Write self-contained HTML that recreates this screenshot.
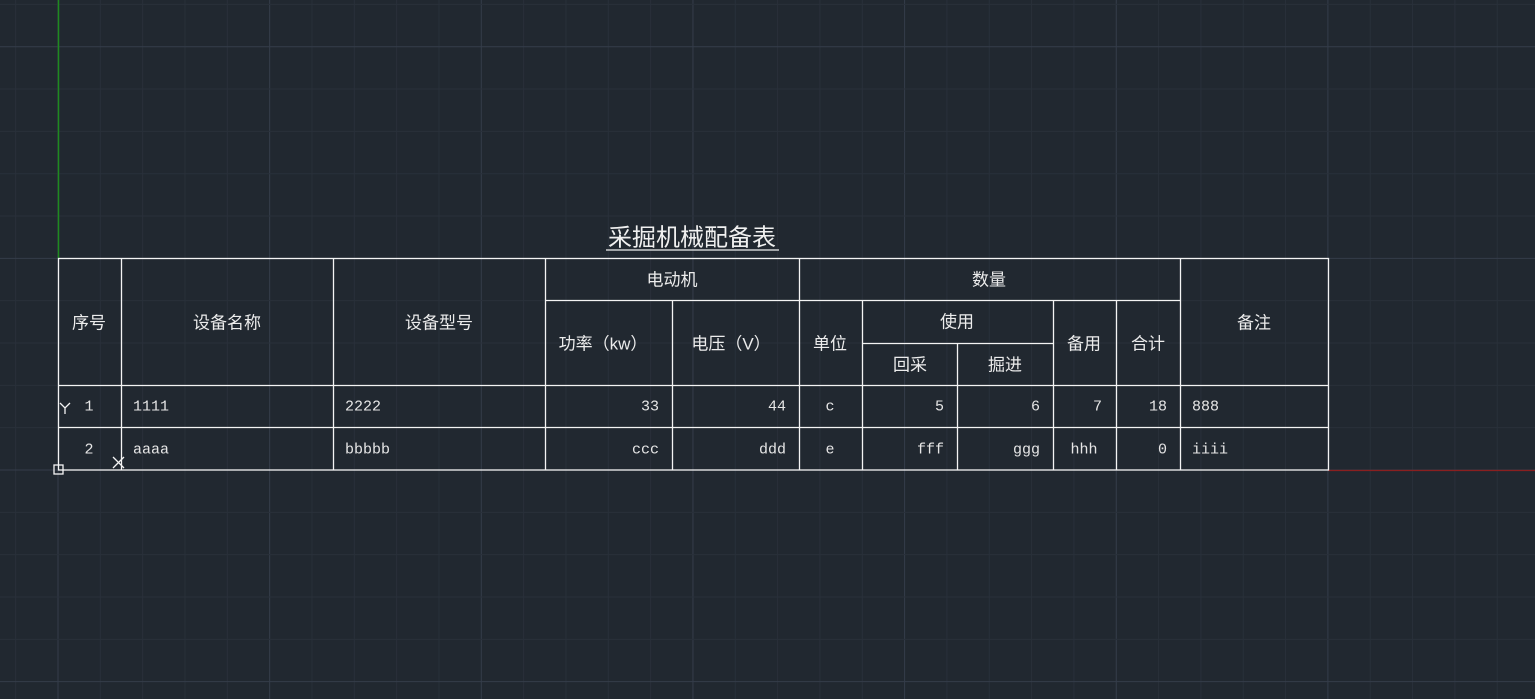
<!DOCTYPE html>
<html><head><meta charset="utf-8"><style>
html,body{margin:0;padding:0;background:#212830;}
svg{display:block}
.h{font-family:"Liberation Sans","Noto Sans CJK SC",sans-serif;font-size:17px;fill:#ececec;text-anchor:middle;dominant-baseline:central}
.d{font-family:"Liberation Mono","Noto Sans CJK SC",monospace;font-size:15px;fill:#e6e6e6;dominant-baseline:central}
.m{text-anchor:middle}.r{text-anchor:end}
</style></head><body>
<svg width="1535" height="699" xmlns="http://www.w3.org/2000/svg">
<rect width="1535" height="699" fill="#212830"/>
<g id="grid"></g>
<line x1="58.5" y1="0" x2="58.5" y2="258" stroke="#1f8a1f" stroke-width="1.5"/>
<line x1="1328" y1="470.5" x2="1535" y2="470.5" stroke="#8a1f1f" stroke-width="1.2"/>
<text x="692" y="238" font-family="'Liberation Sans','Noto Sans CJK SC',sans-serif" font-size="24" fill="#f0f0f0" text-anchor="middle" dominant-baseline="central">采掘机械配备表</text>
<line x1="606" y1="250" x2="779" y2="250" stroke="#f0f0f0" stroke-width="1.3"/>
<g stroke="#f4f4f4" stroke-width="1.3" fill="none">
<rect x="58.5" y="258.5" width="1270" height="211.5"/>
<line x1="58" y1="385.5" x2="1328" y2="385.5"/>
<line x1="58" y1="427.5" x2="1328" y2="427.5"/>
<line x1="545" y1="300.5" x2="1180" y2="300.5"/>
<line x1="862" y1="343.5" x2="1053" y2="343.5"/>
<line x1="121.5" y1="258" x2="121.5" y2="470"/>
<line x1="333.5" y1="258" x2="333.5" y2="470"/>
<line x1="545.5" y1="258" x2="545.5" y2="470"/>
<line x1="672.5" y1="300" x2="672.5" y2="470"/>
<line x1="799.5" y1="258" x2="799.5" y2="470"/>
<line x1="862.5" y1="300" x2="862.5" y2="470"/>
<line x1="957.5" y1="343" x2="957.5" y2="470"/>
<line x1="1053.5" y1="300" x2="1053.5" y2="470"/>
<line x1="1116.5" y1="300" x2="1116.5" y2="470"/>
<line x1="1180.5" y1="258" x2="1180.5" y2="470"/>
<rect x="54" y="465" width="9" height="9"/>
<path d="M60 403 L65 408 L70 403 M65 408 L65 414"/>
<path d="M113 457 L124 468 M124 457 L113 468"/>
</g>
<text class="h" x="89" y="323">序号</text>
<text class="h" x="227" y="323">设备名称</text>
<text class="h" x="439" y="323">设备型号</text>
<text class="h" x="672" y="280">电动机</text>
<text class="h" x="989" y="280">数量</text>
<text class="h" x="603" y="344">功率（kw）</text>
<text class="h" x="731" y="344">电压（V）</text>
<text class="h" x="830" y="344">单位</text>
<text class="h" x="957" y="322">使用</text>
<text class="h" x="910" y="365">回采</text>
<text class="h" x="1005" y="365">掘进</text>
<text class="h" x="1084" y="344">备用</text>
<text class="h" x="1148" y="344">合计</text>
<text class="h" x="1254" y="323">备注</text>
<g class="d">
<text class="d m" x="89" y="407">1</text><text class="d" x="133" y="407">1111</text><text class="d" x="345" y="407">2222</text>
<text class="d r" x="659" y="407">33</text><text class="d r" x="786" y="407">44</text><text class="d m" x="830" y="407">c</text>
<text class="d r" x="944" y="407">5</text><text class="d r" x="1040" y="407">6</text><text class="d r" x="1102" y="407">7</text><text class="d r" x="1167" y="407">18</text><text class="d" x="1192" y="407">888</text>
<text class="d m" x="89" y="450">2</text><text class="d" x="133" y="450">aaaa</text><text class="d" x="345" y="450">bbbbb</text>
<text class="d r" x="659" y="450">ccc</text><text class="d r" x="786" y="450">ddd</text><text class="d m" x="830" y="450">e</text>
<text class="d r" x="944" y="450">fff</text><text class="d r" x="1040" y="450">ggg</text><text class="d m" x="1084" y="450">hhh</text><text class="d r" x="1167" y="450">0</text><text class="d" x="1192" y="450">iiii</text>
</g>
</svg>
<script>
var g=document.getElementById('grid'),ns='http://www.w3.org/2000/svg',s=42.33;
for(var i=-2;i<40;i++){var x=58+i*s;if(x<0||x>1535)continue;var l=document.createElementNS(ns,'line');l.setAttribute('x1',x);l.setAttribute('x2',x);l.setAttribute('y1',0);l.setAttribute('y2',699);l.setAttribute('stroke',(i%5==0)?'#353d4a':'#29303a');l.setAttribute('stroke-width',1);g.appendChild(l);}
for(var j=-12;j<6;j++){var y=470+j*s;if(y<0||y>699)continue;var l=document.createElementNS(ns,'line');l.setAttribute('y1',y);l.setAttribute('y2',y);l.setAttribute('x1',0);l.setAttribute('x2',1535);l.setAttribute('stroke',(j%5==0)?'#353d4a':'#29303a');l.setAttribute('stroke-width',1);g.appendChild(l);}
</script>
</body></html>
